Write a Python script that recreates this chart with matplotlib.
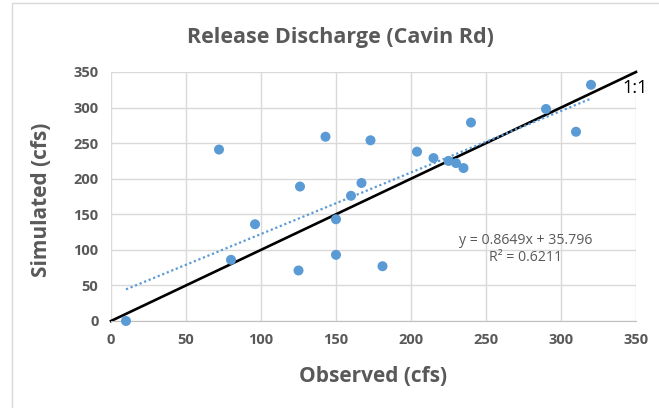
import numpy as np
import matplotlib.pyplot as plt
from matplotlib.patches import Rectangle

# observed vs simulated release discharge (cfs)
observed = [10, 72, 80, 96, 125, 126, 143, 150, 150, 160, 167, 173, 181,
            204, 215, 225, 230, 235, 240, 290, 310, 320]
simulated = [0, 241, 86, 136, 71, 189, 259, 143, 93, 176, 194, 254, 77,
             238, 229, 225, 222, 215, 279, 298, 266, 332]
slope = 0.8649
intercept = 35.796
r2 = 0.6211
ticks = [0, 50, 100, 150, 200, 250, 300, 350]

plt.rcParams['font.family'] = ['Open Sans', 'DejaVu Sans']
grey = '#595959'
blue = '#5B9BD5'

fig = plt.figure(figsize=(6.59, 4.08), dpi=100)
# chart area border (left + top visible)
fig.patches.append(Rectangle((12 / 659, -0.1), 1.2, 1 - 3 / 408 + 0.1,
                             transform=fig.transFigure, fill=False,
                             edgecolor='#d9d9d9', linewidth=1))

ax = fig.add_axes([111 / 659, 1 - 321 / 408, 525 / 659, 249 / 408])
ax.set_xlim(0, 350)
ax.set_ylim(0, 350)
ax.set_xticks(ticks)
ax.set_yticks(ticks)
ax.grid(True, color='#d9d9d9', linewidth=1)
ax.set_axisbelow(True)
for s in ['top', 'right', 'left']:
    ax.spines[s].set_visible(False)
ax.spines['bottom'].set_color('#bfbfbf')
ax.tick_params(length=0, labelsize=10.5, labelcolor=grey, pad=9)
for lab in ax.get_xticklabels() + ax.get_yticklabels():
    lab.set_fontweight('bold')

# 1:1 line
ax.plot([0, 350], [0, 350], color='black', linewidth=1.9, zorder=2, clip_on=False)
# linear trend line
tx = np.array([min(observed), max(observed)])
ax.plot(tx, slope * tx + intercept, color=blue, linestyle=(0, (1, 1.2)),
        linewidth=1.6, zorder=3)
ax.scatter(observed, simulated, s=52, color=blue, zorder=4, clip_on=False,
           edgecolors='none')

ax.text(341, 328, '1:1', fontsize=13, color='black', ha='left', va='center',
        clip_on=False)
eq = f'y = {slope}x + {intercept}\nR² = {r2}'
ax.text(0.790, 0.289, eq, transform=ax.transAxes, fontsize=10.2, color=grey,
        ha='center', va='center', linespacing=1.2)

fig.text(340 / 659, 1 - 37 / 408, 'Release Discharge (Cavin Rd)', fontsize=15.5,
         fontweight='bold', color=grey, ha='center', va='center')
fig.text(373 / 659, 1 - 376 / 408, 'Observed (cfs)', fontsize=15,
         fontweight='bold', color=grey, ha='center', va='center')
fig.text(42 / 659, 1 - 200 / 408, 'Simulated (cfs)', fontsize=15,
         fontweight='bold', color=grey, ha='center', va='center', rotation=90)

fig.savefig('out.png', dpi=100)
